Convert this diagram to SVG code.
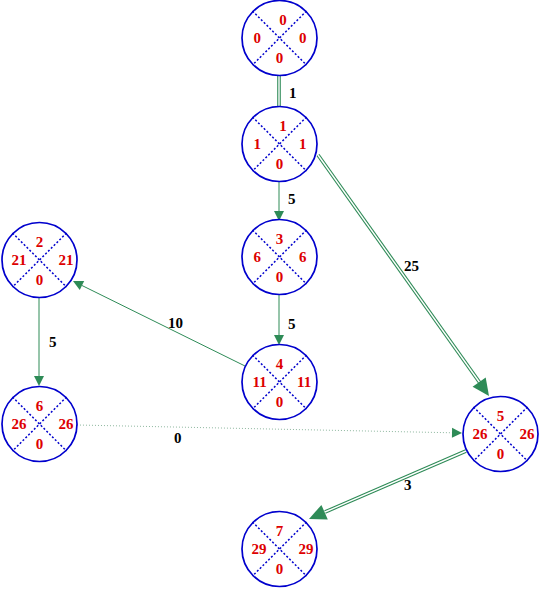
<svg xmlns="http://www.w3.org/2000/svg" width="542" height="589" viewBox="0 0 542 589">
<style>
.c{fill:#fff;stroke:#0000cd;stroke-width:1.7}
.d{stroke:#0000cd;stroke-width:1.5;stroke-dasharray:2,2}
.v{font-family:"Liberation Serif",serif;font-weight:bold;font-size:15px;fill:#dd0000}
.l{font-family:"Liberation Serif",serif;font-weight:bold;font-size:15px;fill:#000}
.s{stroke:#2e8b57;stroke-width:1;fill:none}
.dbo{stroke:#2e8b57;stroke-width:3.6;fill:none}
.dbi{stroke:#fff;stroke-width:1.4;fill:none}
.dt{stroke:#8fb8a0;stroke-width:1;stroke-dasharray:1,2;fill:none}
.ah{fill:#2e8b57}
</style>
<defs>
<g id="x">
<line class="d" x1="-27" y1="-27" x2="27" y2="27"/>
<line class="d" x1="27" y1="-27" x2="-27" y2="27"/>
</g>
</defs>
<g id="edges">
<line class="dbo" x1="279" y1="75" x2="279" y2="106"/>
<line class="dbi" x1="279" y1="75" x2="279" y2="106"/>
<text class="l" x="289" y="98">1</text>
<line class="s" x1="279" y1="182" x2="279" y2="212"/>
<polygon class="ah" points="279,221 274,211 284,211"/>
<text class="l" x="288" y="204">5</text>
<line class="dbo" x1="318" y1="155" x2="480" y2="383"/>
<line class="dbi" x1="318" y1="155" x2="480" y2="383"/>
<polygon class="ah" points="489,396 472.6,386.8 485.7,377.5"/>
<text class="l" x="404" y="271">25</text>
<line class="s" x1="279" y1="295" x2="279" y2="336"/>
<polygon class="ah" points="279,345 274,335 284,335"/>
<text class="l" x="288" y="329">5</text>
<line class="s" x1="245" y1="366" x2="82" y2="285.5"/>
<polygon class="ah" points="73,281 84.18,280.95 79.75,289.91"/>
<text class="l" x="168" y="328">10</text>
<line class="s" x1="39" y1="298" x2="39" y2="377"/>
<polygon class="ah" points="39,386 34,376 44,376"/>
<text class="l" x="49" y="347">5</text>
<line class="dt" x1="77" y1="425" x2="453" y2="432.8"/>
<polygon class="ah" points="462,433 451.9,437.8 452.1,427.8"/>
<text class="l" x="174" y="443">0</text>
<line class="dbo" x1="466" y1="451" x2="325" y2="512"/>
<line class="dbi" x1="466" y1="451" x2="325" y2="512"/>
<polygon class="ah" points="309,519 321.4,504.9 327.8,519.6"/>
<text class="l" x="404" y="490">3</text>
</g>
<g id="n0" transform="translate(279.5,38)">
<circle class="c" r="37.5"/><use href="#x"/>
<text class="v" x="3.5" y="-13" text-anchor="middle">0</text>
<text class="v" x="-26" y="4.5">0</text>
<text class="v" x="19.5" y="4.5">0</text>
<text class="v" x="0" y="24.5" text-anchor="middle">0</text>
</g>
<g id="n1" transform="translate(279.5,144)">
<circle class="c" r="37.5"/><use href="#x"/>
<text class="v" x="3.5" y="-13" text-anchor="middle">1</text>
<text class="v" x="-26" y="4.5">1</text>
<text class="v" x="19.5" y="4.5">1</text>
<text class="v" x="0" y="24.5" text-anchor="middle">0</text>
</g>
<g id="n3" transform="translate(279.5,257)">
<circle class="c" r="37.5"/><use href="#x"/>
<text class="v" x="0" y="-13" text-anchor="middle">3</text>
<text class="v" x="-26" y="4.5">6</text>
<text class="v" x="19.5" y="4.5">6</text>
<text class="v" x="0" y="24.5" text-anchor="middle">0</text>
</g>
<g id="n4" transform="translate(279.5,382)">
<circle class="c" r="37.5"/><use href="#x"/>
<text class="v" x="0" y="-13" text-anchor="middle">4</text>
<text class="v" x="-27" y="4.5">11</text>
<text class="v" x="17.5" y="4.5">11</text>
<text class="v" x="0" y="24.5" text-anchor="middle">0</text>
</g>
<g id="n2" transform="translate(39.5,260)">
<circle class="c" r="37.5"/><use href="#x"/>
<text class="v" x="0" y="-13" text-anchor="middle">2</text>
<text class="v" x="-28" y="4.5">21</text>
<text class="v" x="19" y="4.5">21</text>
<text class="v" x="0" y="24.5" text-anchor="middle">0</text>
</g>
<g id="n6" transform="translate(39.5,424)">
<circle class="c" r="37.5"/><use href="#x"/>
<text class="v" x="0" y="-13" text-anchor="middle">6</text>
<text class="v" x="-28" y="4.5">26</text>
<text class="v" x="19" y="4.5">26</text>
<text class="v" x="0" y="24.5" text-anchor="middle">0</text>
</g>
<g id="n5" transform="translate(500.5,434)">
<circle class="c" r="37.5"/><use href="#x"/>
<text class="v" x="0" y="-13" text-anchor="middle">5</text>
<text class="v" x="-28" y="4.5">26</text>
<text class="v" x="19" y="4.5">26</text>
<text class="v" x="0" y="24.5" text-anchor="middle">0</text>
</g>
<g id="n7" transform="translate(279.5,549)">
<circle class="c" r="37.5"/><use href="#x"/>
<text class="v" x="0" y="-13" text-anchor="middle">7</text>
<text class="v" x="-28" y="4.5">29</text>
<text class="v" x="19" y="4.5">29</text>
<text class="v" x="0" y="24.5" text-anchor="middle">0</text>
</g>
</svg>
